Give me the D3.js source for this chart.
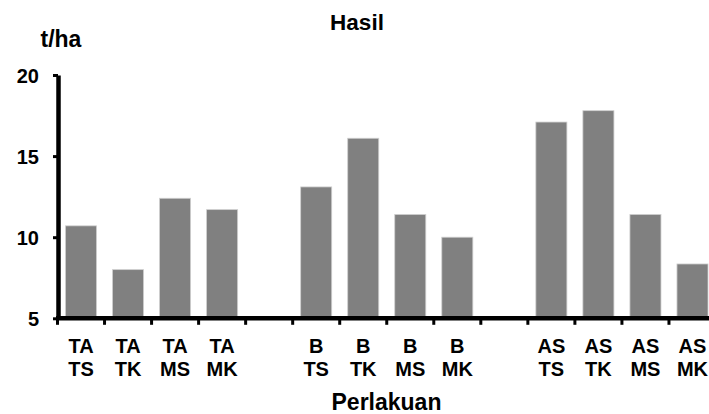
<!DOCTYPE html>
<html><head><meta charset="utf-8">
<script src="https://cdn.jsdelivr.net/npm/d3@7"></script>
<style>
body{margin:0;background:#fff;}
text{font-family:"Liberation Sans",Arial,sans-serif;font-weight:bold;fill:#000;}
</style></head>
<body><svg id="c" width="709" height="414"></svg>
<script>
const line1 = ["TA","TA","TA","TA","","B","B","B","B","","AS","AS","AS","AS"];
const line2 = ["TS","TK","MS","MK","","TS","TK","MS","MK","","TS","TK","MS","MK"];
const values = [10.7,8.0,12.4,11.7,null,13.1,16.1,11.4,10.0,null,17.1,17.8,11.4,8.35];
const yTicks = [5,10,15,20];
const title = "Hasil", yLabel = "t/ha", xLabel = "Perlakuan";

const svg = d3.select("#c");
const x = d3.scaleBand().domain(d3.range(values.length)).range([57.5, 716]).paddingInner(0.34).paddingOuter(0.17);
const y = d3.scaleLinear().domain([5,20]).range([318.3, 75]);

// bars
svg.selectAll("rect.bar").data(values.map((v,i)=>({v,i})).filter(d=>d.v!=null))
  .enter().append("rect").attr("class","bar")
  .attr("x", d=>x(d.i)).attr("width", x.bandwidth())
  .attr("y", d=>y(d.v)).attr("height", d=>y(5)-y(d.v))
  .attr("fill","#808080").attr("stroke","#cfcfcf").attr("stroke-width",0.8);

// y axis
const ya = svg.append("g").attr("transform","translate(58,0)")
  .call(d3.axisLeft(y).tickValues(yTicks).tickSize(5).tickPadding(14).tickSizeOuter(0));
ya.select(".domain").attr("stroke","#000").attr("stroke-width",4.5);
ya.selectAll(".tick line").attr("stroke","#000").attr("stroke-width",3);
ya.selectAll(".tick text").style("font-size","20px").attr("dy","0.36em");

// x axis
const step = x.step();
const x0 = x.range()[0];
svg.append("line").attr("x1",56).attr("x2",720).attr("y1",y(5)).attr("y2",y(5))
  .attr("stroke","#000").attr("stroke-width",4.5);
svg.selectAll("line.xt").data(d3.range(values.length+1)).enter().append("line").attr("class","xt")
  .attr("x1",i=>x0+i*step).attr("x2",i=>x0+i*step)
  .attr("y1",y(5)).attr("y2",y(5)+6.5).attr("stroke","#000").attr("stroke-width",3);

const lab = svg.selectAll("g.xl").data(d3.range(values.length)).enter().append("g").attr("class","xl");
lab.append("text").attr("x",i=>x(i)+x.bandwidth()/2).attr("y",352.8).attr("text-anchor","middle")
  .style("font-size","20px").text(i=>line1[i]);
lab.append("text").attr("x",i=>x(i)+x.bandwidth()/2).attr("y",376).attr("text-anchor","middle")
  .style("font-size","20px").text(i=>line2[i]);

svg.append("text").attr("x",357).attr("y",29.5).attr("text-anchor","middle").style("font-size","22.5px").text(title);
svg.append("text").attr("x",40.5).attr("y",46.5).style("font-size","23px").text(yLabel);
svg.append("text").attr("x",386.5).attr("y",409.8).attr("text-anchor","middle").style("font-size","23px").text(xLabel);
</script></body></html>
